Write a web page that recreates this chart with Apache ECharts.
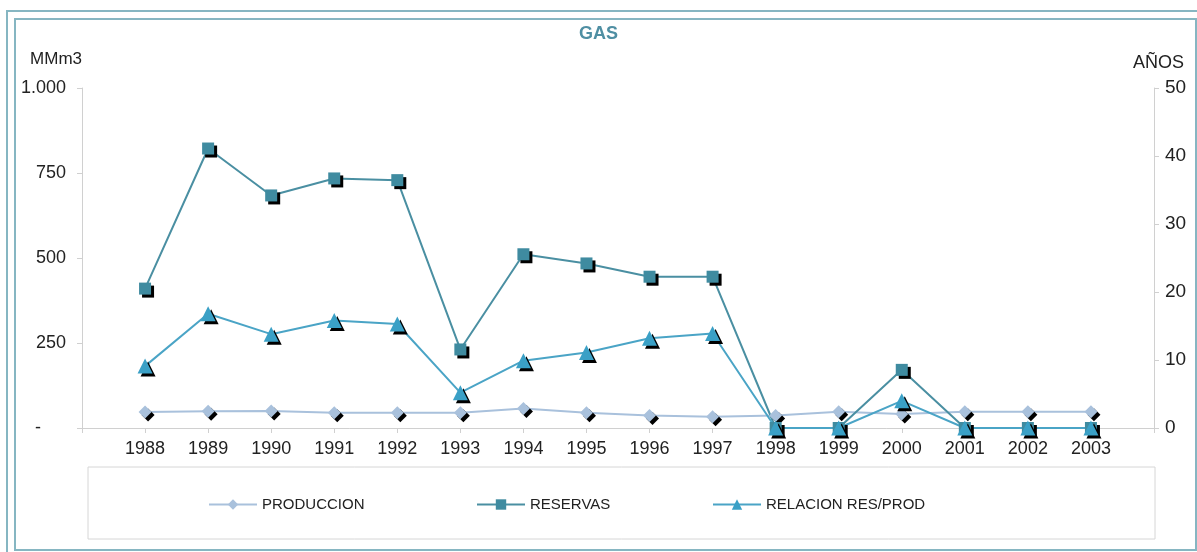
<!DOCTYPE html>
<html>
<head>
<meta charset="utf-8">
<script src="https://cdn.jsdelivr.net/npm/echarts@6/dist/echarts.min.js"></script>
<style>
  html, body { margin: 0; padding: 0; background: #fff; }
  #chart { width: 1197px; height: 552px; }
</style>
</head>
<body>
<div id="chart"></div>
<script>
const years = ['1988', '1989', '1990', '1991', '1992', '1993', '1994', '1995',
  '1996', '1997', '1998', '1999', '2000', '2001', '2002', '2003'];
const produccion = [47, 49, 50, 45, 45, 45, 57, 45, 37, 33, 37, 48, 41, 48, 48, 48];
const reservas = [410, 822, 684, 734, 729, 231, 511, 484, 445, 445, 0, 0, 171, 0, 0, 0];
const relacion = [9.1, 16.8, 13.8, 15.8, 15.3, 5.2, 9.9, 11.1, 13.2, 13.9, 0, 0, 4.0, 0, 0, 0];
const leftTicks = [0, 250, 500, 750, 1000];
const rightTicks = [0, 10, 20, 30, 40, 50];

// Excel-style category axis: one empty slot on each side
const pad = arr => [null, ...arr, null];
const cats = ['', ...years, ''];

const chart = echarts.init(document.getElementById('chart'));
const font = 'Liberation Sans, Arial, sans-serif';

function fmtLeft(v) {
  if (v === 0) return '-     ';
  return String(v).replace(/\B(?=(\d{3})+(?!\d))/g, '.');
}

const shadow = { shadowColor: '#000', shadowBlur: 0, shadowOffsetX: 3, shadowOffsetY: 3 };

const option = {
  animation: false,
  backgroundColor: '#fff',
  textStyle: { fontFamily: font },
  title: {
    text: 'GAS',
    left: 'center',
    top: 25,
    padding: 0,
    textStyle: { fontFamily: font, fontSize: 18, fontWeight: 'bold', color: '#4f8fa3' }
  },
  graphic: [
    { type: 'rect', shape: { x: 7, y: 11, width: 1210, height: 560 }, style: { fill: 'none', stroke: '#86b6c2', lineWidth: 2 }, z: -1 },
    { type: 'rect', shape: { x: 15, y: 19, width: 1181, height: 531 }, style: { fill: 'none', stroke: '#86b6c2', lineWidth: 2 }, z: -1 },
    { type: 'rect', shape: { x: 88, y: 467, width: 1067, height: 72 }, style: { fill: 'none', stroke: '#d6d6d6', lineWidth: 1 }, z: -1 }
  ],
  legend: [
    { data: ['PRODUCCION'], left: 208, top: 497 },
    { data: ['RESERVAS'], left: 476, top: 497 },
    { data: ['RELACION RES/PROD'], left: 712, top: 497 }
  ].map(l => Object.assign(l, {
    padding: 0,
    itemWidth: 48, itemHeight: 13, itemGap: 6,
    textStyle: { fontFamily: font, fontSize: 15, color: '#222' },
    itemStyle: { shadowColor: 'transparent', shadowOffsetX: 0, shadowOffsetY: 0 }
  })),
  grid: { left: 82, right: 43, top: 88, bottom: 124 },
  xAxis: {
    type: 'category',
    data: cats,
    boundaryGap: false,
    axisLine: { lineStyle: { color: '#d0d0d0' } },
    axisTick: { show: true, length: 5, lineStyle: { color: '#d0d0d0' } },
    axisLabel: { interval: 0, fontSize: 18, color: '#222', margin: 12, fontFamily: font }
  },
  yAxis: [
    {
      type: 'value', min: 0, max: 1000, interval: 250,
      name: 'MMm3', nameGap: 20,
      nameTextStyle: { align: 'right', fontSize: 17, color: '#222', fontFamily: font },
      axisLine: { show: true, lineStyle: { color: '#d0d0d0' } },
      axisTick: { show: true, length: 5, lineStyle: { color: '#d0d0d0' } },
      splitLine: { show: false },
      axisLabel: { fontSize: 18, color: '#222', margin: 16, fontFamily: font,
        formatter: v => leftTicks.includes(v) ? fmtLeft(v) : '' }
    },
    {
      type: 'value', min: 0, max: 50, interval: 10, position: 'right',
      name: 'AÑOS', nameGap: 16,
      nameTextStyle: { align: 'left', padding: [0, 0, 0, -21], fontSize: 18, color: '#222', fontFamily: font },
      axisLine: { show: true, lineStyle: { color: '#d0d0d0' } },
      axisTick: { show: true, length: 5, lineStyle: { color: '#d0d0d0' } },
      splitLine: { show: false },
      axisLabel: { fontSize: 19, color: '#222', margin: 11, fontFamily: font,
        formatter: v => rightTicks.includes(v) ? String(v) : '' }
    }
  ],
  series: [
    {
      name: 'PRODUCCION', type: 'line', yAxisIndex: 0, data: pad(produccion),
      symbol: 'diamond', symbolSize: 13,
      lineStyle: { color: '#a9c1dc', width: 2 },
      itemStyle: Object.assign({ color: '#a9c1dc' }, shadow)
    },
    {
      name: 'RESERVAS', type: 'line', yAxisIndex: 0, data: pad(reservas),
      symbol: 'rect', symbolSize: 12,
      lineStyle: { color: '#4a8fa2', width: 2 },
      itemStyle: Object.assign({ color: '#3f8ba0' }, shadow)
    },
    {
      name: 'RELACION RES/PROD', type: 'line', yAxisIndex: 1, data: pad(relacion),
      symbol: 'triangle', symbolSize: 15,
      lineStyle: { color: '#4aa4c6', width: 2 },
      itemStyle: Object.assign({ color: '#3aa0c6' }, shadow)
    }
  ]
};

chart.setOption(option);
</script>
</body>
</html>
